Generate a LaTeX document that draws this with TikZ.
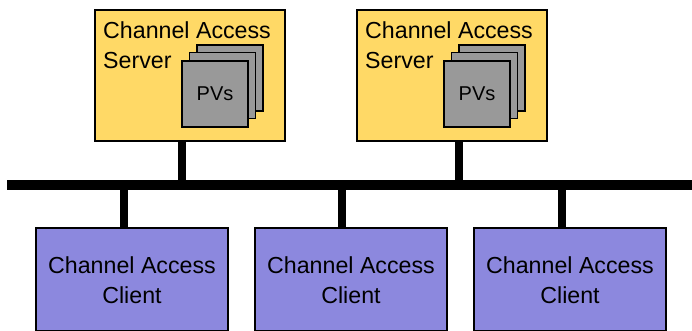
\documentclass[tikz,border=0pt]{standalone}
\usepackage{fontspec}
\setmainfont{Liberation Sans}
\definecolor{srvfill}{RGB}{255,217,102}
\definecolor{clifill}{RGB}{140,136,222}
\definecolor{pvfill}{RGB}{153,153,153}
\begin{document}
\begin{tikzpicture}[x=1pt,y=-1pt,
  srvbox/.style={draw=black,line width=2pt,fill=srvfill},
  clibox/.style={draw=black,line width=2pt,fill=clifill},
  pvcard/.style={draw=black,line width=1.6pt,fill=pvfill,minimum width=66pt,minimum height=66pt,inner sep=0pt},
  bigtext/.style={font=\fontsize{23.2}{30}\selectfont},
  wire/.style={line width=8pt},
  bus/.style={line width=10pt}]
\useasboundingbox (0,0) rectangle (692,331);
% bus
\coordinate (busL) at (7,185);
\coordinate (busR) at (692,185);
\draw[bus] (busL) -- (busR);
% servers
\foreach \n/\x in {s1/94,s2/356}{
  \node[srvbox,minimum width=190pt,minimum height=131pt,anchor=north west,inner sep=0pt] (\n) at (\x,9) {};
  \node[pvcard] (\n pv3) at (\x+136,78) {};
  \node[pvcard] (\n pv2) at (\x+128.5,85.5) {};
  \node[pvcard,font=\fontsize{20}{22}\selectfont] (\n pv1) at (\x+121,94) {PVs};
  \node[anchor=north west,align=left,inner sep=0pt,bigtext] (\n t) at (\x+9,21) {Channel Access\\Server};
}
% clients
\foreach \n/\x in {c1/35,c2/254,c3/473}{
  \node[clibox,minimum width=192pt,minimum height=103pt,anchor=north west,inner sep=0pt] (\n) at (\x,227) {};
  \node[bigtext,align=center] (\n t) at ([yshift=-1pt]\n.center) {Channel Access\\Client};
}
% connectors
\coordinate (j1) at (182,185);
\coordinate (j2) at (459,185);
\coordinate (k1) at (124,185);
\coordinate (k2) at (342,185);
\coordinate (k3) at (562,185);
\draw[wire] (s1.south -| j1) -- (j1);
\draw[wire] (s2.south -| j2) -- (j2);
\draw[wire] (k1) -- (c1.north -| k1);
\draw[wire] (k2) -- (c2.north -| k2);
\draw[wire] (k3) -- (c3.north -| k3);
\end{tikzpicture}
\end{document}
